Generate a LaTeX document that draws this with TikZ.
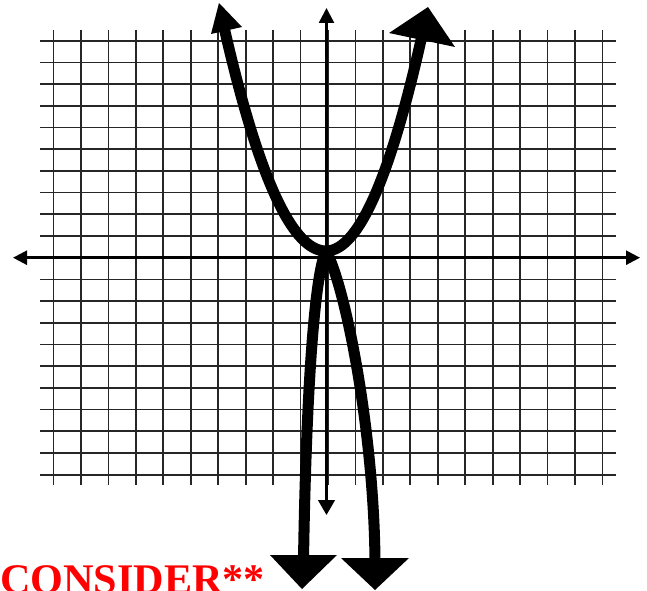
\documentclass[tikz,border=0pt]{standalone}
\usepackage{fontspec}
\setmainfont{Liberation Serif}
\usetikzlibrary{arrows.meta}
\begin{document}
\begin{tikzpicture}[x=0.03cm,y=-0.03cm,
  gridline/.style={line width=1.5pt, black!85},
  axisline/.style={line width=2.1pt, black},
  curve/.style={line width=9.4pt, black, line join=round, line cap=butt},
  head/.style={fill=black, draw=none}]
\useasboundingbox (0,0) rectangle (647,590);
\clip (0,0) rectangle (647,590);
\fill[white] (0,0) rectangle (647,590);
% grid
\foreach \k in {0,...,20} {
  \draw[gridline] ({53.5+27.45*\k},30) -- ({53.5+27.45*\k},485);
  \draw[gridline] (40,{40.7+21.7*\k}) -- (616,{40.7+21.7*\k});
}
% axes
\coordinate (xl) at (13,257.7);
\coordinate (xr) at (640,257.7);
\coordinate (yt) at (326.5,8);
\coordinate (yb) at (326.5,515);
\draw[axisline, {Triangle[length=0.42cm,width=0.42cm]}-{Triangle[length=0.42cm,width=0.42cm]}] (xl) -- (xr);
\draw[axisline, {Triangle[length=0.45cm,width=0.45cm]}-{Triangle[length=0.45cm,width=0.5cm]}] (yt) -- (yb);
% upward branch
\coordinate (vtx) at (326,251);
\coordinate (ult) at (219,3);
\coordinate (urt) at (428,7);
\draw[curve] plot[domain=-102:0, samples=50] ({326+\x},{251-211*(\x/99)*(\x/99)})
  -- plot[domain=0:97, samples=50] ({326+\x},{251-211*(\x/95)*(\x/95)});
\fill[head] (ult) -- (242,27) -- (211,34) -- cycle;
\fill[head] (urt) -- (455,47) -- (389,33) -- cycle;
% downward branches
\coordinate (dlt) at (302,589);
\coordinate (drt) at (375,590);
\coordinate (dlb) at (303.5,560);
\coordinate (drb) at (375,562);
\draw[curve] (vtx) .. controls (314,275) and (306,400) .. (dlb);
\draw[curve] (vtx) .. controls (345,285) and (374,430) .. (drb);
\fill[head] (dlt) -- (270,555) -- (337,555) -- cycle;
\fill[head] (drt) -- (341,558) -- (409,558) -- cycle;
% label
\node[anchor=base west, inner sep=0pt, text=red, font=\bfseries\fontsize{36}{40}\selectfont] (consider) at (0,593) {CONSIDER**};
\end{tikzpicture}
\end{document}
